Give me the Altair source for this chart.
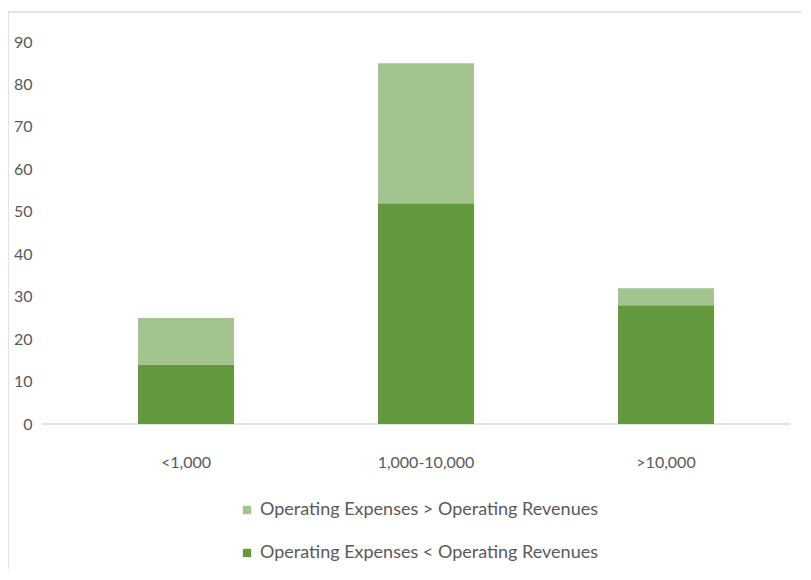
import altair as alt
import pandas as pd

categories = ["<1,000", "1,000-10,000", ">10,000"]
series_names = ["Operating Expenses > Operating Revenues", "Operating Expenses < Operating Revenues"]
expenses_gt = [11, 33, 4]      # light segment
expenses_lt = [14, 52, 28]     # dark segment (bottom)
colors = ["#A3C48F", "#62993C"]

rows = []
for c, lo, hi in zip(categories, expenses_lt, expenses_gt):
    rows.append({"cat": c, "series": series_names[1], "value": lo, "ord": 0})
    rows.append({"cat": c, "series": series_names[0], "value": hi, "ord": 1})
df = pd.DataFrame(rows)

FONT = "Lato"
TXT = "#595959"

bars = alt.Chart(df).mark_bar().encode(
    x=alt.X("cat:N", sort=categories, title=None,
            scale=alt.Scale(paddingInner=0.6, paddingOuter=0.3),
            axis=alt.Axis(labelAngle=0, ticks=False, domain=False, labelPadding=30,
                          labelFontSize=16, labelColor=TXT, labelFont=FONT)),
    y=alt.Y("value:Q", stack="zero", title=None,
            scale=alt.Scale(domain=[0, 90], nice=False),
            axis=alt.Axis(values=list(range(0, 91, 10)), ticks=False, domain=False, grid=False,
                          labelPadding=34, labelFontSize=16, labelColor=TXT, labelFont=FONT)),
    color=alt.Color("series:N", scale=alt.Scale(domain=series_names, range=colors), title=None,
                    legend=alt.Legend(orient="none", legendX=172, legendY=459, direction="vertical",
                                      symbolType="square", symbolSize=70, rowPadding=25,
                                      labelFontSize=18, labelColor=TXT, labelFont=FONT,
                                      labelOffset=4, symbolStrokeWidth=0, labelLimit=500)),
    order=alt.Order("ord:Q"),
)

baseline = alt.Chart(alt.Data(values=[{}])).mark_rule(color="#D9D9D9", strokeWidth=1.5).encode(
    x=alt.value(-24), x2=alt.value(724), y=alt.value(382)
)

frame = alt.Chart(alt.Data(values=[{}])).mark_rect(fill=None, stroke="#D9D9D9", strokeWidth=1.5).encode(
    x=alt.value(-58), x2=alt.value(760), y=alt.value(-30), y2=alt.value(560)
)

chart = alt.layer(frame, baseline, bars).properties(
    width=720, height=382,
    autosize=alt.AutoSizeParams(type="none"),
    padding={"left": 58, "top": 34, "right": 15, "bottom": 145},
).configure(background="white", view=alt.ViewConfig(stroke="transparent"))

chart.save("out.html", embed_options={"renderer": "svg", "actions": False})
